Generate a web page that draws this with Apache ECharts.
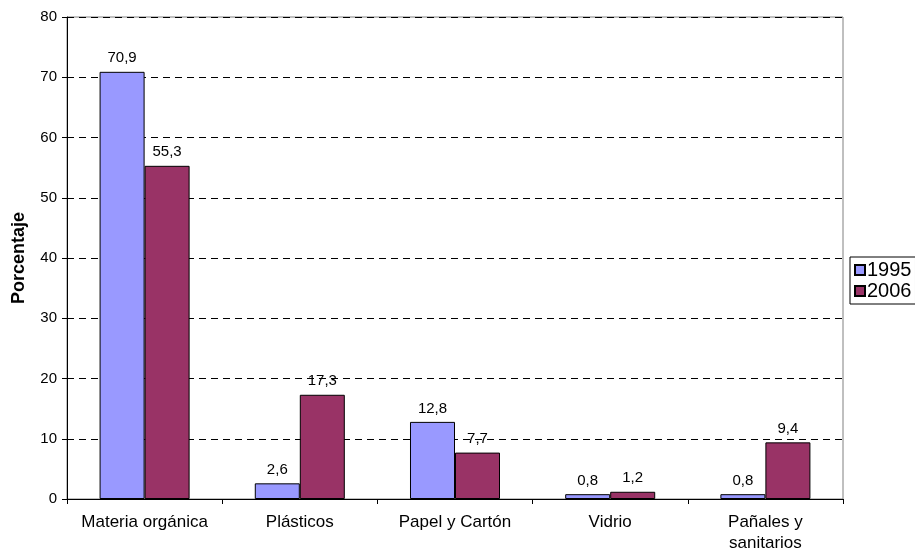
<!DOCTYPE html>
<html><head><meta charset="utf-8">
<script src="https://cdn.jsdelivr.net/npm/echarts@6/dist/echarts.min.js"></script>
<style>html,body{margin:0;padding:0;background:#fff}#c{width:915px;height:558px}</style>
</head><body><div id="c"></div>
<script>
const categories = ["Materia orgánica", "Plásticos", "Papel y Cartón", "Vidrio", "Pañales y\nsanitarios"];
const seriesNames = ["1995", "2006"];
const values1995 = [70.9, 2.6, 12.8, 0.8, 0.8];
const values2006 = [55.3, 17.3, 7.7, 1.2, 9.4];
const yTicks = [0, 10, 20, 30, 40, 50, 60, 70, 80];

const chart = echarts.init(document.getElementById('c'), null, {renderer: 'canvas'});
const fmt = p => String(p.value).replace('.', ',');
const font = 'Liberation Sans, Arial, sans-serif';
chart.setOption({
  animation: false,
  textStyle: {fontFamily: font},
  grid: {left: 67, right: 72, top: 17, bottom: 59, show: true, borderColor: '#808080', borderWidth: 1},
  legend: {
    orient: 'vertical', left: 850, top: 257,
    data: seriesNames,
    itemWidth: 10, itemHeight: 10, itemGap: 1,
    padding: [3, 4, 3, 4],
    borderColor: '#000', borderWidth: 1,
    icon: 'rect',
    textStyle: {fontSize: 20, lineHeight: 17, color: '#000', fontFamily: font, padding: [0, 0, 0, -3]}
  },
  xAxis: {
    type: 'category', data: categories,
    axisLine: {lineStyle: {color: '#000', width: 1}},
    axisTick: {show: true, length: 5, lineStyle: {color: '#000'}},
    axisLabel: {color: '#000', fontSize: 17, margin: 13, lineHeight: 21, interval: 0, fontFamily: font}
  },
  yAxis: {
    type: 'value', min: yTicks[0], max: yTicks[yTicks.length - 1], interval: 10,
    name: 'Porcentaje', nameLocation: 'middle', nameGap: 39, nameRotate: 90,
    nameTextStyle: {fontWeight: 'bold', fontSize: 18, color: '#000', fontFamily: font},
    axisLine: {show: true, lineStyle: {color: '#000', width: 1}},
    axisTick: {show: true, length: 5, lineStyle: {color: '#000'}},
    axisLabel: {color: '#000', fontSize: 15, margin: 10, fontFamily: font},
    splitLine: {show: true, lineStyle: {color: '#000', type: [7, 5], width: 1}}
  },
  series: [
    {name: seriesNames[0], type: 'bar', data: values1995, barGap: '0%', barCategoryGap: '42%',
     itemStyle: {color: '#9999FF', borderColor: '#000', borderWidth: 1},
     label: {show: true, position: 'top', distance: 6, formatter: fmt, color: '#000', fontSize: 15, fontFamily: font}},
    {name: seriesNames[1], type: 'bar', data: values2006, barGap: '0%', barCategoryGap: '42%',
     itemStyle: {color: '#993366', borderColor: '#000', borderWidth: 1},
     label: {show: true, position: 'top', distance: 6, formatter: fmt, color: '#000', fontSize: 15, fontFamily: font}}
  ]
});
</script></body></html>
